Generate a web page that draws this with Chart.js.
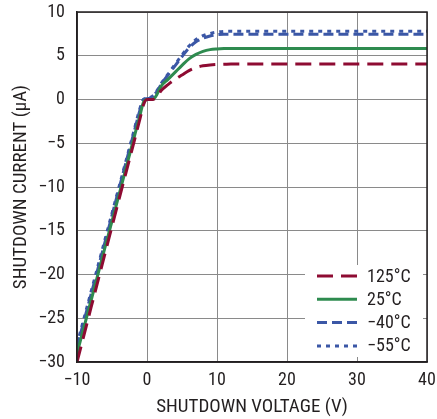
<!DOCTYPE html>
<html>
<head>
<meta charset="utf-8">
<script src="https://cdn.jsdelivr.net/npm/chart.js@4.4.1/dist/chart.umd.min.js"></script>
<style>
  body { margin: 0; background: #fff; }
  #wrap { width: 437px; height: 419px; position: relative; }
</style>
</head>
<body>
<div id="wrap"><canvas id="my-chart"></canvas></div>
<script>
// shutdown voltage (V)
const voltage = [-10, -8, -6, -4, -2, -1, -0.5, 0, 0.5, 1, 1.5, 2, 3, 4, 5, 6, 7, 8, 9, 10, 11, 12, 15, 20, 25, 30, 35, 40];
// shutdown current (uA) per temperature
const i125 = [-30, -23.8, -17.6, -11.4, -5.3, -2.2, -0.6, 0, 0, 0.05, 0.4, 1.0, 1.7, 2.3, 2.8, 3.3, 3.65, 3.85, 3.95, 4.0, 4.02, 4.05, 4.05, 4.05, 4.05, 4.05, 4.05, 4.05];
const i25 = [-29, -23, -16.9, -10.9, -4.8, -1.8, -0.3, 0, 0, 0.1, 0.7, 1.5, 2.3, 3.1, 3.9, 4.65, 5.15, 5.5, 5.7, 5.78, 5.82, 5.83, 5.83, 5.83, 5.83, 5.83, 5.83, 5.83];
const iM40 = [-28.3, -22.3, -16.3, -10.2, -4.2, -1.2, 0, 0.1, 0.2, 0.5, 1.0, 1.7, 2.8, 3.85, 4.9, 5.9, 6.6, 7.0, 7.25, 7.4, 7.45, 7.45, 7.45, 7.45, 7.45, 7.45, 7.45, 7.45];
const iM55 = [-28, -22, -16, -10, -4, -1.0, 0, 0.1, 0.25, 0.55, 1.1, 1.8, 2.9, 4.0, 5.1, 6.1, 6.85, 7.3, 7.55, 7.7, 7.78, 7.8, 7.8, 7.8, 7.8, 7.8, 7.8, 7.8];
const labels = ['125°C', '25°C', '−40°C', '−55°C'];

const FONT = "'Roboto Condensed', 'Liberation Sans', sans-serif";
const INK = '#231f20';

function pts(ys) {
  return voltage.map((x, i) => ({ x: x, y: ys[i] }));
}
const minus = v => String(v).replace('-', '−');

// legend drawn inside the plot area, bottom right, on white
const boxLegend = {
  id: 'boxLegend',
  afterDatasetsDraw(chart) {
    const c = chart.ctx;
    const a = chart.chartArea;
    const x0 = a.right - 122, y0 = a.bottom - 97;
    c.save();
    c.fillStyle = '#fff';
    c.fillRect(x0, y0, 118, 92);
    c.font = '18px ' + FONT;
    c.textBaseline = 'middle';
    chart.data.datasets.forEach((ds, i) => {
      const y = y0 + 11 + i * 23.3;
      c.strokeStyle = ds.borderColor;
      c.lineWidth = 3;
      c.setLineDash(ds.borderDash || []);
      c.beginPath();
      c.moveTo(x0 + 12, y);
      c.lineTo(x0 + 52, y);
      c.stroke();
      c.setLineDash([]);
      c.fillStyle = INK;
      c.fillText(ds.label, x0 + 62, y + 1);
    });
    c.restore();
  },
  afterDraw(chart) {
    const c = chart.ctx;
    const a = chart.chartArea;
    c.save();
    c.strokeStyle = INK;
    c.lineWidth = 1.5;
    c.strokeRect(a.left, a.top, a.right - a.left, a.bottom - a.top);
    c.restore();
  }
};

const ctx = document.getElementById('my-chart');
const myChart = new Chart(ctx, {
  type: 'line',
  data: {
    datasets: [
      {
        label: labels[0],
        data: pts(i125),
        borderColor: '#8e0b32',
        borderDash: [16, 8]
      },
      {
        label: labels[1],
        data: pts(i25),
        borderColor: '#2e8b4f'
      },
      {
        label: labels[2],
        data: pts(iM40),
        borderColor: '#3b57a6',
        borderDash: [10, 5]
      },
      {
        label: labels[3],
        data: pts(iM55),
        borderColor: '#3b57a6',
        borderDash: [4, 5]
      }
    ]
  },
  options: {
    responsive: true,
    maintainAspectRatio: false,
    animation: false,
    layout: { padding: { top: 12, right: 10, left: 0, bottom: 0 } },
    elements: {
      point: { radius: 0 },
      line: { borderWidth: 3, cubicInterpolationMode: 'monotone', fill: false }
    },
    plugins: {
      legend: { display: false },
      tooltip: { enabled: false }
    },
    scales: {
      x: {
        type: 'linear',
        min: -10,
        max: 40,
        afterFit: s => {
          s.height = 57;
          s.paddingLeft = 0;
          s.paddingRight = 0;
        },
        grid: { color: '#8a8a8a', lineWidth: 1, drawTicks: false },
        border: { color: INK, width: 1.5 },
        ticks: {
          stepSize: 10,
          padding: 8,
          color: INK,
          font: { family: FONT, size: 18 },
          callback: v => minus(v)
        },
        title: {
          display: true,
          text: 'SHUTDOWN VOLTAGE (V)',
          color: INK,
          font: { family: FONT, size: 19 },
          padding: { top: 0, bottom: 0 }
        }
      },
      y: {
        min: -30,
        max: 10,
        afterFit: s => {
          s.width = 77;
          s.paddingTop = 0;
          s.paddingBottom = 0;
        },
        grid: { color: '#8a8a8a', lineWidth: 1, drawTicks: false },
        border: { color: INK, width: 1.5 },
        ticks: {
          stepSize: 5,
          padding: 12,
          color: INK,
          font: { family: FONT, size: 18 },
          callback: v => minus(v)
        },
        title: {
          display: true,
          text: 'SHUTDOWN CURRENT (µA)',
          color: INK,
          font: { family: FONT, size: 19 },
          padding: { top: 10, bottom: 0 }
        }
      }
    }
  },
  plugins: [boxLegend]
});
</script>
</body>
</html>
